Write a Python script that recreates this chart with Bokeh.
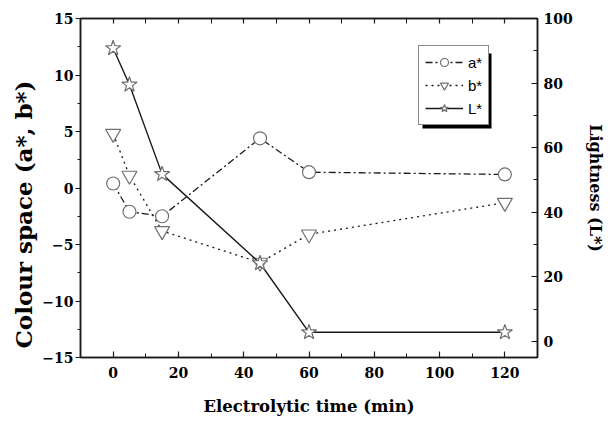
from bokeh.plotting import figure
from bokeh.models import (LinearAxis, Range1d, Legend, LegendItem, BoxAnnotation,
                          FixedTicker, CustomLabelingPolicy, Title)
from bokeh.embed import file_html
from bokeh.resources import INLINE

# Electrolytic time (min)
time_min = [0, 5, 15, 45, 60, 120]
# Colour coordinates (left axis)
a_star = [0.4, -2.1, -2.5, 4.4, 1.4, 1.2]
b_star = [4.8, 1.1, -3.8, -6.6, -4.1, -1.3]
# Lightness (right axis)
l_star = [90.8, 79.5, 51.8, 24.2, 2.8, 2.8]

x_ticks = [0, 20, 40, 60, 80, 100, 120]
x_minor = [-10, 10, 30, 50, 70, 90, 110, 130]
left_ticks = [-15, -10, -5, 0, 5, 10, 15]
left_minor = [-12.5, -7.5, -2.5, 2.5, 7.5, 12.5]
right_ticks = [0, 20, 40, 60, 80, 100]
right_minor = [10, 30, 50, 70, 90]

SERIF = "DejaVu Serif"
INK = "#1a1a1a"
MARK = "#6f6f6f"

p = figure(frame_width=457, frame_height=339,
           min_border_left=80, min_border_right=79,
           min_border_top=18, min_border_bottom=64,
           x_range=Range1d(-10, 130), y_range=Range1d(-15, 15),
           output_backend="svg", toolbar_location=None,
           background_fill_color="white", border_fill_color="white")
p.extra_y_ranges = {"L": Range1d(-5, 100)}
p.grid.visible = False
p.outline_line_color = INK
p.outline_line_width = 1.5

# Bottom axis
xa = p.xaxis[0]
xa.ticker = FixedTicker(ticks=x_ticks, minor_ticks=x_minor)
xa.axis_label = "Electrolytic time (min)"
xa.major_tick_in, xa.major_tick_out = 6, 0
xa.minor_tick_in, xa.minor_tick_out = 4, 0
xa.major_label_standoff = 9
xa.axis_label_standoff = 16

# Left axis (its title is a side Title, see below)
ya = p.yaxis[0]
ya.ticker = FixedTicker(ticks=left_ticks, minor_ticks=left_minor)
ya.major_tick_in, ya.major_tick_out = 0, 5
ya.minor_tick_in, ya.minor_tick_out = 0, 3
ya.major_label_standoff = 2

# Right axis for lightness
ra = LinearAxis(y_range_name="L", axis_label="Lightness (L*)")
ra.ticker = FixedTicker(ticks=right_ticks, minor_ticks=right_minor)
ra.major_tick_in, ra.major_tick_out = 6, 0
ra.minor_tick_in, ra.minor_tick_out = 4, 0
ra.major_label_standoff = 6
ra.axis_label_standoff = 10
p.add_layout(ra, "right")

# Top axis: tick marks only, every label filtered out
ta = LinearAxis(ticker=FixedTicker(ticks=x_ticks, minor_ticks=x_minor))
ta.major_tick_in, ta.major_tick_out = 5, 0
ta.minor_tick_in, ta.minor_tick_out = 5, 0
ta.major_label_standoff = 0
ta.major_label_policy = CustomLabelingPolicy(code="""
    for (const i of Array.from(indices)) indices.unset(i)
    return indices
""")
p.add_layout(ta, "above")

for ax in [xa, ya, ra, ta]:
    ax.axis_line_color = INK
    ax.axis_line_width = 1.5
    ax.major_tick_line_color = INK
    ax.minor_tick_line_color = INK
    ax.major_tick_line_width = 1.2
    ax.minor_tick_line_width = 1
    ax.major_label_text_font = SERIF
    ax.major_label_text_font_style = "bold"
    ax.major_label_text_font_size = "14px"
    ax.major_label_text_color = "black"
    ax.axis_label_text_font = SERIF
    ax.axis_label_text_font_style = "bold"
    ax.axis_label_text_color = "black"
ta.major_label_text_font_size = "0px"
xa.axis_label_text_font_size = "16.5px"
ra.axis_label_text_font_size = "16px"

# Left axis title as a side Title, starting slightly above the frame bottom
p.add_layout(Title(text="Colour space (a*, b*)", align="left", offset=9,
                   standoff=6, text_font=SERIF, text_font_style="bold",
                   text_font_size="23px", text_color="black"), "left")

# Series
la = p.line(time_min, a_star, line_color=INK, line_width=1.3, line_dash="7 3 2 3")
sa = p.scatter(time_min, a_star, marker="circle", size=13, line_color=MARK,
               fill_color="white", line_width=1.2)
lb = p.line(time_min, b_star, line_color=INK, line_width=1.3, line_dash="2 4")
sb = p.scatter(time_min, b_star, marker="inverted_triangle", size=15, line_color=MARK,
               fill_color="white", line_width=1.2)
ll = p.line(time_min, l_star, y_range_name="L", line_color=INK, line_width=1.4)
sl = p.scatter(time_min, l_star, y_range_name="L", marker="star", size=16,
               line_color=MARK, fill_color="white", line_width=1.2)

# Drop shadow behind the legend box (offset down and to the right)
p.add_layout(BoxAnnotation(left=342, right=411, bottom=229, top=304,
                           left_units="screen", right_units="screen",
                           bottom_units="screen", top_units="screen",
                           fill_color="black", fill_alpha=1, line_alpha=0))

legend = Legend(items=[LegendItem(label="a*", renderers=[la, sa]),
                       LegendItem(label="b*", renderers=[lb, sb]),
                       LegendItem(label="L*", renderers=[ll, sl])],
                location=(338, 232), orientation="vertical",
                glyph_width=38, glyph_height=20, spacing=3, padding=6, margin=0,
                label_standoff=5, label_width=14, label_height=20,
                label_text_font="Liberation Sans",
                label_text_font_size="15px", label_text_color="black",
                border_line_color=INK, border_line_width=1.2,
                background_fill_color="white", background_fill_alpha=1)
p.add_layout(legend, "center")

with open("out.html", "w") as f:
    f.write(file_html(p, INLINE))
